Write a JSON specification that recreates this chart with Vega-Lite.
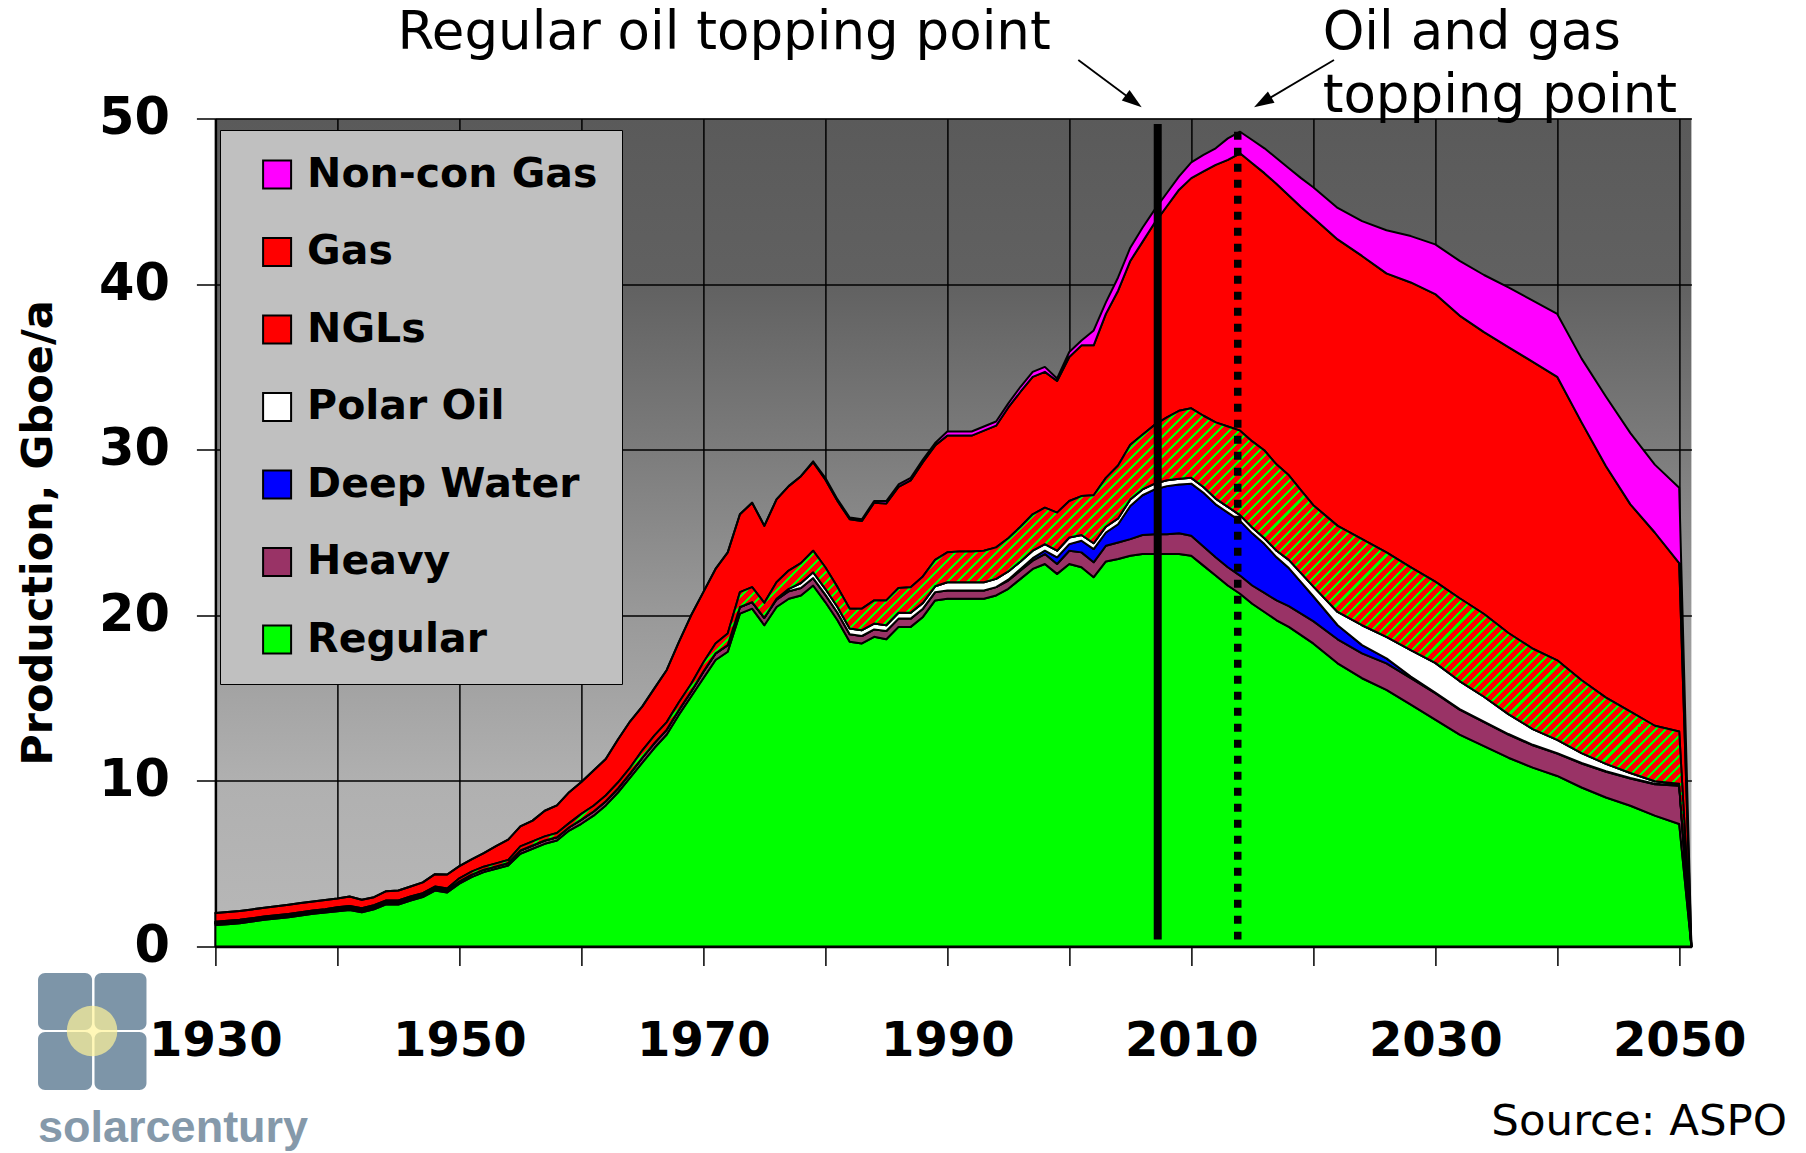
{
"$schema":"https://vega.github.io/schema/vega-lite/v6.json",
"width":1476,"height":828,
"autosize":{"type":"none"},
"padding":{"left":215.4,"top":118.5,"right":114.6,"bottom":206.5},
"background":"white",
"config":{"aria":false,"view":{"stroke":null,"fill":{"gradient":"linear","x1":0,"y1":0,"x2":0,"y2":1,"stops":[{"offset":0,"color":"#5a5a5a"},{"offset":0.2,"color":"#616161"},{"offset":0.4,"color":"#7c7c7c"},{"offset":0.6,"color":"#999999"},{"offset":0.8,"color":"#b0b0b0"},{"offset":1,"color":"#b8b8b8"}]}}},
"datasets":{"prod":[
{"year":1930,"Regular":1.3,"Heavy":0.1,"Deep Water":0,"Polar Oil":0,"NGLs":0.1,"Gas":0.53,"Non-con Gas":0},
{"year":1931,"Regular":1.35,"Heavy":0.1,"Deep Water":0,"Polar Oil":0,"NGLs":0.1,"Gas":0.53,"Non-con Gas":0},
{"year":1932,"Regular":1.41,"Heavy":0.1,"Deep Water":0,"Polar Oil":0,"NGLs":0.1,"Gas":0.53,"Non-con Gas":0},
{"year":1933,"Regular":1.51,"Heavy":0.1,"Deep Water":0,"Polar Oil":0,"NGLs":0.1,"Gas":0.53,"Non-con Gas":0},
{"year":1934,"Regular":1.61,"Heavy":0.1,"Deep Water":0,"Polar Oil":0,"NGLs":0.1,"Gas":0.53,"Non-con Gas":0},
{"year":1935,"Regular":1.69,"Heavy":0.1,"Deep Water":0,"Polar Oil":0,"NGLs":0.1,"Gas":0.54,"Non-con Gas":0},
{"year":1936,"Regular":1.77,"Heavy":0.1,"Deep Water":0,"Polar Oil":0,"NGLs":0.1,"Gas":0.55,"Non-con Gas":0},
{"year":1937,"Regular":1.87,"Heavy":0.1,"Deep Water":0,"Polar Oil":0,"NGLs":0.1,"Gas":0.55,"Non-con Gas":0},
{"year":1938,"Regular":1.97,"Heavy":0.1,"Deep Water":0,"Polar Oil":0,"NGLs":0.1,"Gas":0.55,"Non-con Gas":0},
{"year":1939,"Regular":2.05,"Heavy":0.1,"Deep Water":0,"Polar Oil":0,"NGLs":0.1,"Gas":0.56,"Non-con Gas":0},
{"year":1940,"Regular":2.13,"Heavy":0.12,"Deep Water":0,"Polar Oil":0,"NGLs":0.12,"Gas":0.53,"Non-con Gas":0},
{"year":1941,"Regular":2.21,"Heavy":0.12,"Deep Water":0,"Polar Oil":0,"NGLs":0.12,"Gas":0.57,"Non-con Gas":0},
{"year":1942,"Regular":2.07,"Heavy":0.12,"Deep Water":0,"Polar Oil":0,"NGLs":0.12,"Gas":0.51,"Non-con Gas":0},
{"year":1943,"Regular":2.25,"Heavy":0.12,"Deep Water":0,"Polar Oil":0,"NGLs":0.12,"Gas":0.49,"Non-con Gas":0},
{"year":1944,"Regular":2.54,"Heavy":0.12,"Deep Water":0,"Polar Oil":0,"NGLs":0.12,"Gas":0.56,"Non-con Gas":0},
{"year":1945,"Regular":2.54,"Heavy":0.12,"Deep Water":0,"Polar Oil":0,"NGLs":0.12,"Gas":0.6,"Non-con Gas":0},
{"year":1946,"Regular":2.78,"Heavy":0.12,"Deep Water":0,"Polar Oil":0,"NGLs":0.12,"Gas":0.6,"Non-con Gas":0},
{"year":1947,"Regular":2.98,"Heavy":0.12,"Deep Water":0,"Polar Oil":0,"NGLs":0.12,"Gas":0.65,"Non-con Gas":0},
{"year":1948,"Regular":3.38,"Heavy":0.12,"Deep Water":0,"Polar Oil":0,"NGLs":0.12,"Gas":0.75,"Non-con Gas":0},
{"year":1949,"Regular":3.26,"Heavy":0.12,"Deep Water":0,"Polar Oil":0,"NGLs":0.12,"Gas":0.85,"Non-con Gas":0},
{"year":1950,"Regular":3.79,"Heavy":0.15,"Deep Water":0,"Polar Oil":0,"NGLs":0.18,"Gas":0.73,"Non-con Gas":0},
{"year":1951,"Regular":4.19,"Heavy":0.15,"Deep Water":0,"Polar Oil":0,"NGLs":0.18,"Gas":0.74,"Non-con Gas":0},
{"year":1952,"Regular":4.49,"Heavy":0.15,"Deep Water":0,"Polar Oil":0,"NGLs":0.18,"Gas":0.82,"Non-con Gas":0},
{"year":1953,"Regular":4.69,"Heavy":0.15,"Deep Water":0,"Polar Oil":0,"NGLs":0.18,"Gas":1.04,"Non-con Gas":0},
{"year":1954,"Regular":4.89,"Heavy":0.15,"Deep Water":0,"Polar Oil":0,"NGLs":0.18,"Gas":1.23,"Non-con Gas":0},
{"year":1955,"Regular":5.6,"Heavy":0.2,"Deep Water":0,"Polar Oil":0,"NGLs":0.25,"Gas":1.2,"Non-con Gas":0},
{"year":1956,"Regular":5.9,"Heavy":0.2,"Deep Water":0,"Polar Oil":0,"NGLs":0.25,"Gas":1.25,"Non-con Gas":0},
{"year":1957,"Regular":6.2,"Heavy":0.2,"Deep Water":0,"Polar Oil":0,"NGLs":0.25,"Gas":1.55,"Non-con Gas":0},
{"year":1958,"Regular":6.4,"Heavy":0.2,"Deep Water":0,"Polar Oil":0,"NGLs":0.25,"Gas":1.67,"Non-con Gas":0},
{"year":1959,"Regular":7.0,"Heavy":0.2,"Deep Water":0,"Polar Oil":0,"NGLs":0.25,"Gas":1.87,"Non-con Gas":0},
{"year":1960,"Regular":7.41,"Heavy":0.25,"Deep Water":0,"Polar Oil":0,"NGLs":0.35,"Gas":1.92,"Non-con Gas":0},
{"year":1961,"Regular":7.9,"Heavy":0.25,"Deep Water":0,"Polar Oil":0,"NGLs":0.35,"Gas":2.13,"Non-con Gas":0},
{"year":1962,"Regular":8.52,"Heavy":0.25,"Deep Water":0,"Polar Oil":0,"NGLs":0.35,"Gas":2.2,"Non-con Gas":0},
{"year":1963,"Regular":9.3,"Heavy":0.25,"Deep Water":0,"Polar Oil":0,"NGLs":0.35,"Gas":2.6,"Non-con Gas":0},
{"year":1964,"Regular":10.2,"Heavy":0.25,"Deep Water":0,"Polar Oil":0,"NGLs":0.35,"Gas":2.8,"Non-con Gas":0},
{"year":1965,"Regular":11.1,"Heavy":0.3,"Deep Water":0,"Polar Oil":0,"NGLs":0.45,"Gas":2.65,"Non-con Gas":0},
{"year":1966,"Regular":12.0,"Heavy":0.3,"Deep Water":0,"Polar Oil":0,"NGLs":0.45,"Gas":2.85,"Non-con Gas":0},
{"year":1967,"Regular":12.8,"Heavy":0.3,"Deep Water":0,"Polar Oil":0,"NGLs":0.45,"Gas":3.15,"Non-con Gas":0},
{"year":1968,"Regular":14.0,"Heavy":0.3,"Deep Water":0,"Polar Oil":0,"NGLs":0.45,"Gas":3.65,"Non-con Gas":0},
{"year":1969,"Regular":15.1,"Heavy":0.3,"Deep Water":0,"Polar Oil":0,"NGLs":0.45,"Gas":4.15,"Non-con Gas":0},
{"year":1970,"Regular":16.2,"Heavy":0.4,"Deep Water":0,"Polar Oil":0,"NGLs":0.55,"Gas":4.25,"Non-con Gas":0},
{"year":1971,"Regular":17.3,"Heavy":0.4,"Deep Water":0,"Polar Oil":0,"NGLs":0.6,"Gas":4.5,"Non-con Gas":0},
{"year":1972,"Regular":17.8,"Heavy":0.4,"Deep Water":0,"Polar Oil":0,"NGLs":0.7,"Gas":4.9,"Non-con Gas":0},
{"year":1973,"Regular":20.1,"Heavy":0.4,"Deep Water":0,"Polar Oil":0,"NGLs":0.9,"Gas":4.7,"Non-con Gas":0},
{"year":1974,"Regular":20.4,"Heavy":0.4,"Deep Water":0,"Polar Oil":0,"NGLs":0.9,"Gas":5.1,"Non-con Gas":0},
{"year":1975,"Regular":19.4,"Heavy":0.45,"Deep Water":0,"Polar Oil":0,"NGLs":0.9,"Gas":4.65,"Non-con Gas":0},
{"year":1976,"Regular":20.5,"Heavy":0.45,"Deep Water":0,"Polar Oil":0.05,"NGLs":1.0,"Gas":5.0,"Non-con Gas":0},
{"year":1977,"Regular":21.0,"Heavy":0.45,"Deep Water":0,"Polar Oil":0.15,"NGLs":1.1,"Gas":5.1,"Non-con Gas":0},
{"year":1978,"Regular":21.2,"Heavy":0.45,"Deep Water":0,"Polar Oil":0.3,"NGLs":1.2,"Gas":5.25,"Non-con Gas":0},
{"year":1979,"Regular":21.8,"Heavy":0.45,"Deep Water":0,"Polar Oil":0.35,"NGLs":1.3,"Gas":5.35,"Non-con Gas":0.05},
{"year":1980,"Regular":20.8,"Heavy":0.45,"Deep Water":0,"Polar Oil":0.35,"NGLs":1.3,"Gas":5.3,"Non-con Gas":0.1},
{"year":1981,"Regular":19.7,"Heavy":0.45,"Deep Water":0,"Polar Oil":0.35,"NGLs":1.2,"Gas":5.2,"Non-con Gas":0.1},
{"year":1982,"Regular":18.4,"Heavy":0.45,"Deep Water":0,"Polar Oil":0.35,"NGLs":1.2,"Gas":5.4,"Non-con Gas":0.1},
{"year":1983,"Regular":18.3,"Heavy":0.45,"Deep Water":0,"Polar Oil":0.35,"NGLs":1.3,"Gas":5.3,"Non-con Gas":0.1},
{"year":1984,"Regular":18.7,"Heavy":0.45,"Deep Water":0,"Polar Oil":0.35,"NGLs":1.4,"Gas":5.9,"Non-con Gas":0.1},
{"year":1985,"Regular":18.55,"Heavy":0.5,"Deep Water":0,"Polar Oil":0.35,"NGLs":1.5,"Gas":5.85,"Non-con Gas":0.15},
{"year":1986,"Regular":19.3,"Heavy":0.5,"Deep Water":0,"Polar Oil":0.35,"NGLs":1.5,"Gas":6.1,"Non-con Gas":0.15},
{"year":1987,"Regular":19.3,"Heavy":0.5,"Deep Water":0,"Polar Oil":0.35,"NGLs":1.55,"Gas":6.45,"Non-con Gas":0.15},
{"year":1988,"Regular":19.9,"Heavy":0.5,"Deep Water":0,"Polar Oil":0.35,"NGLs":1.6,"Gas":6.9,"Non-con Gas":0.15},
{"year":1989,"Regular":20.9,"Heavy":0.5,"Deep Water":0,"Polar Oil":0.35,"NGLs":1.6,"Gas":6.9,"Non-con Gas":0.15},
{"year":1990,"Regular":21.0,"Heavy":0.5,"Deep Water":0,"Polar Oil":0.5,"NGLs":1.8,"Gas":7.05,"Non-con Gas":0.25},
{"year":1991,"Regular":21.0,"Heavy":0.5,"Deep Water":0,"Polar Oil":0.5,"NGLs":1.85,"Gas":7.0,"Non-con Gas":0.25},
{"year":1992,"Regular":21.0,"Heavy":0.5,"Deep Water":0,"Polar Oil":0.5,"NGLs":1.85,"Gas":7.0,"Non-con Gas":0.25},
{"year":1993,"Regular":21.0,"Heavy":0.5,"Deep Water":0,"Polar Oil":0.5,"NGLs":1.9,"Gas":7.25,"Non-con Gas":0.25},
{"year":1994,"Regular":21.2,"Heavy":0.5,"Deep Water":0,"Polar Oil":0.5,"NGLs":1.9,"Gas":7.35,"Non-con Gas":0.25},
{"year":1995,"Regular":21.6,"Heavy":0.5,"Deep Water":0.05,"Polar Oil":0.5,"NGLs":2.0,"Gas":7.9,"Non-con Gas":0.25},
{"year":1996,"Regular":22.2,"Heavy":0.5,"Deep Water":0.1,"Polar Oil":0.45,"NGLs":2.1,"Gas":8.15,"Non-con Gas":0.3},
{"year":1997,"Regular":22.8,"Heavy":0.5,"Deep Water":0.15,"Polar Oil":0.45,"NGLs":2.2,"Gas":8.3,"Non-con Gas":0.3},
{"year":1998,"Regular":23.1,"Heavy":0.6,"Deep Water":0.2,"Polar Oil":0.4,"NGLs":2.2,"Gas":8.2,"Non-con Gas":0.3},
{"year":1999,"Regular":22.5,"Heavy":0.6,"Deep Water":0.4,"Polar Oil":0.4,"NGLs":2.3,"Gas":7.95,"Non-con Gas":0.15},
{"year":2000,"Regular":23.1,"Heavy":0.8,"Deep Water":0.4,"Polar Oil":0.4,"NGLs":2.2,"Gas":8.7,"Non-con Gas":0.3},
{"year":2001,"Regular":22.9,"Heavy":0.9,"Deep Water":0.7,"Polar Oil":0.35,"NGLs":2.35,"Gas":9.1,"Non-con Gas":0.3},
{"year":2002,"Regular":22.3,"Heavy":0.9,"Deep Water":0.8,"Polar Oil":0.35,"NGLs":2.9,"Gas":9.05,"Non-con Gas":0.9},
{"year":2003,"Regular":23.25,"Heavy":0.95,"Deep Water":0.8,"Polar Oil":0.35,"NGLs":2.95,"Gas":9.9,"Non-con Gas":0.7},
{"year":2004,"Regular":23.4,"Heavy":1.0,"Deep Water":1.1,"Polar Oil":0.35,"NGLs":3.2,"Gas":10.55,"Non-con Gas":0.8},
{"year":2005,"Regular":23.6,"Heavy":1.0,"Deep Water":2.0,"Polar Oil":0.4,"NGLs":3.3,"Gas":11.1,"Non-con Gas":0.8},
{"year":2006,"Regular":23.7,"Heavy":1.15,"Deep Water":2.4,"Polar Oil":0.35,"NGLs":3.3,"Gas":11.65,"Non-con Gas":0.85},
{"year":2007,"Regular":23.7,"Heavy":1.2,"Deep Water":2.7,"Polar Oil":0.35,"NGLs":3.55,"Gas":12.2,"Non-con Gas":0.8},
{"year":2008,"Regular":23.7,"Heavy":1.2,"Deep Water":2.9,"Polar Oil":0.35,"NGLs":3.8,"Gas":12.75,"Non-con Gas":0.8},
{"year":2009,"Regular":23.7,"Heavy":1.25,"Deep Water":2.95,"Polar Oil":0.35,"NGLs":4.1,"Gas":13.35,"Non-con Gas":0.8},
{"year":2010,"Regular":23.6,"Heavy":1.2,"Deep Water":3.15,"Polar Oil":0.35,"NGLs":4.2,"Gas":13.9,"Non-con Gas":0.95},
{"year":2011,"Regular":23.0,"Heavy":1.15,"Deep Water":3.25,"Polar Oil":0.35,"NGLs":4.3,"Gas":14.75,"Non-con Gas":1.0},
{"year":2012,"Regular":22.4,"Heavy":1.1,"Deep Water":3.2,"Polar Oil":0.35,"NGLs":4.6,"Gas":15.55,"Non-con Gas":1.0},
{"year":2013,"Regular":21.8,"Heavy":1.1,"Deep Water":3.3,"Polar Oil":0.35,"NGLs":4.85,"Gas":16.1,"Non-con Gas":1.3},
{"year":2014,"Regular":21.3,"Heavy":1.1,"Deep Water":3.3,"Polar Oil":0.35,"NGLs":5.1,"Gas":16.75,"Non-con Gas":1.3},
{"year":2015,"Regular":20.7,"Heavy":1.1,"Deep Water":3.15,"Polar Oil":0.35,"NGLs":5.2,"Gas":16.8,"Non-con Gas":1.4},
{"year":2016,"Regular":20.2,"Heavy":1.15,"Deep Water":2.95,"Polar Oil":0.35,"NGLs":5.3,"Gas":16.75,"Non-con Gas":1.5},
{"year":2017,"Regular":19.7,"Heavy":1.2,"Deep Water":2.6,"Polar Oil":0.4,"NGLs":5.2,"Gas":16.95,"Non-con Gas":1.55},
{"year":2018,"Regular":19.3,"Heavy":1.25,"Deep Water":2.3,"Polar Oil":0.5,"NGLs":5.1,"Gas":16.9,"Non-con Gas":1.65},
{"year":2019,"Regular":18.8,"Heavy":1.3,"Deep Water":1.9,"Polar Oil":0.55,"NGLs":5.0,"Gas":17.1,"Non-con Gas":1.75},
{"year":2020,"Regular":18.3,"Heavy":1.35,"Deep Water":1.5,"Polar Oil":0.6,"NGLs":4.9,"Gas":17.35,"Non-con Gas":1.85},
{"year":2022,"Regular":17.1,"Heavy":1.45,"Deep Water":0.85,"Polar Oil":0.8,"NGLs":5.2,"Gas":17.3,"Non-con Gas":1.9},
{"year":2024,"Regular":16.2,"Heavy":1.5,"Deep Water":0.5,"Polar Oil":1.2,"NGLs":5.2,"Gas":17.1,"Non-con Gas":2.1},
{"year":2026,"Regular":15.5,"Heavy":1.6,"Deep Water":0.3,"Polar Oil":1.3,"NGLs":5.1,"Gas":16.85,"Non-con Gas":2.6},
{"year":2028,"Regular":14.6,"Heavy":1.6,"Deep Water":0.1,"Polar Oil":1.6,"NGLs":5.0,"Gas":17.2,"Non-con Gas":2.8},
{"year":2030,"Regular":13.7,"Heavy":1.6,"Deep Water":0.03,"Polar Oil":1.8,"NGLs":4.9,"Gas":17.37,"Non-con Gas":3.0},
{"year":2032,"Regular":12.8,"Heavy":1.5,"Deep Water":0.03,"Polar Oil":1.7,"NGLs":5.0,"Gas":17.07,"Non-con Gas":3.3},
{"year":2034,"Regular":12.1,"Heavy":1.45,"Deep Water":0.03,"Polar Oil":1.5,"NGLs":5.0,"Gas":17.02,"Non-con Gas":3.45},
{"year":2036,"Regular":11.4,"Heavy":1.4,"Deep Water":0.03,"Polar Oil":1.2,"NGLs":4.9,"Gas":17.27,"Non-con Gas":3.6},
{"year":2038,"Regular":10.8,"Heavy":1.35,"Deep Water":0.03,"Polar Oil":0.95,"NGLs":4.85,"Gas":17.32,"Non-con Gas":3.7},
{"year":2040,"Regular":10.3,"Heavy":1.35,"Deep Water":0.03,"Polar Oil":0.8,"NGLs":4.8,"Gas":17.12,"Non-con Gas":3.8},
{"year":2042,"Regular":9.6,"Heavy":1.45,"Deep Water":0.03,"Polar Oil":0.6,"NGLs":4.4,"Gas":15.57,"Non-con Gas":3.85},
{"year":2044,"Regular":9.0,"Heavy":1.55,"Deep Water":0.03,"Polar Oil":0.45,"NGLs":4.0,"Gas":13.97,"Non-con Gas":4.2},
{"year":2046,"Regular":8.5,"Heavy":1.65,"Deep Water":0.03,"Polar Oil":0.3,"NGLs":3.7,"Gas":12.52,"Non-con Gas":4.3},
{"year":2048,"Regular":7.9,"Heavy":1.9,"Deep Water":0.03,"Polar Oil":0.15,"NGLs":3.35,"Gas":11.67,"Non-con Gas":4.1},
{"year":2050,"Regular":7.4,"Heavy":2.3,"Deep Water":0.03,"Polar Oil":0.1,"NGLs":3.15,"Gas":10.17,"Non-con Gas":4.55},
{"year":2051,"Regular":0,"Heavy":0,"Deep Water":0,"Polar Oil":0,"NGLs":0,"Gas":0,"Non-con Gas":0}
]},
"layer":[
{"data":{"name":"prod"},
 "transform":[{"fold":["Regular","Heavy","Deep Water","Polar Oil","NGLs","Gas","Non-con Gas"],"as":["series","value"]},{"stack":"value","groupby":["year"],"as":["v0","v1"]}],
 "mark":{"type":"area","stroke":"black","strokeWidth":2,"strokeJoin":"round","opacity":1},
 "encoding":{
  "x":{"field":"year","type":"quantitative","scale":{"domain":[1930,2051],"nice":false,"zero":false},
   "axis":{"values":[1930,1940,1950,1960,1970,1980,1990,2000,2010,2020,2030,2040,2050],"format":"d","labelExpr":"datum.value % 20 === 10 ? datum.label : ''","title":null,"grid":true,"gridColor":"black","gridWidth":1.5,"gridOpacity":1,"domainColor":"black","domainWidth":2.5,"ticks":true,"tickColor":"black","tickWidth":1.5,"tickSize":19,"labelFont":"DejaVu Sans","labelFontSize":48,"labelFontWeight":"bold","labelColor":"black","labelPadding":52,"labelFlush":false,"labelOverlap":false}},
  "y":{"field":"v1","type":"quantitative","scale":{"domain":[0,50],"nice":false},
   "axis":{"values":[0,10,20,30,40,50],"title":"Production, Gboe/a","titleFont":"DejaVu Sans","titleFontSize":43,"titleFontWeight":"bold","titleColor":"black","titleX":-164,"titleY":414,"titleAngle":270,"titleAlign":"center","titleBaseline":"alphabetic","grid":true,"gridColor":"black","gridWidth":1.5,"gridOpacity":1,"domainColor":"black","domainWidth":2.5,"ticks":true,"tickColor":"black","tickWidth":1.5,"tickSize":19,"labelFont":"DejaVu Sans","labelFontSize":51,"labelFontWeight":"bold","labelColor":"black","labelPadding":27,"labelOverlap":false}},
  "y2":{"field":"v0"},
  "color":{"field":"series","type":"nominal",
   "scale":{"domain":["Non-con Gas","Gas","NGLs","Polar Oil","Deep Water","Heavy","Regular"],"range":["#ff00ff","#ff0000","#ff0000","#ffffff","#0000ff","#993366","#00ff00"]},
   "legend":{"title":null,"orient":"none","legendX":4.6,"legendY":11.5,"direction":"vertical","fillColor":"#c0c0c0","strokeColor":"black","padding":24,"symbolType":"square","symbolSize":784,"symbolStrokeColor":"black","symbolStrokeWidth":2,"symbolOpacity":1,"symbolOffset":12.6,"labelOffset":9.5,"labelFont":"DejaVu Sans","labelFontSize":41,"labelFontWeight":"bold","labelColor":"black","labelLimit":600,"rowPadding":35.5}}
 }},
{"data":{"name":"prod"},
 "transform":[{"fold":["Regular","Heavy","Deep Water","Polar Oil","NGLs","Gas","Non-con Gas"],"as":["series","value"]},{"stack":"value","groupby":["year"],"as":["v0","v1"]},{"filter":"datum.series === 'NGLs'"}],
 "mark":{"type":"area","stroke":"black","strokeWidth":2,"strokeJoin":"round","opacity":1,"fill":{"gradient":"linear","x1":0,"y1":0,"x2":1.2045,"y2":0.4392,"stops":[
{"offset":0,"color":"red"},{"offset":0.0035,"color":"red"},{"offset":0.0035,"color":"lime"},{"offset":0.005,"color":"lime"},{"offset":0.005,"color":"red"},{"offset":0.0085,"color":"red"},{"offset":0.0085,"color":"lime"},{"offset":0.01,"color":"lime"},
{"offset":0.01,"color":"red"},{"offset":0.0135,"color":"red"},{"offset":0.0135,"color":"lime"},{"offset":0.015,"color":"lime"},{"offset":0.015,"color":"red"},{"offset":0.0185,"color":"red"},{"offset":0.0185,"color":"lime"},{"offset":0.02,"color":"lime"},
{"offset":0.02,"color":"red"},{"offset":0.0235,"color":"red"},{"offset":0.0235,"color":"lime"},{"offset":0.025,"color":"lime"},{"offset":0.025,"color":"red"},{"offset":0.0285,"color":"red"},{"offset":0.0285,"color":"lime"},{"offset":0.03,"color":"lime"},
{"offset":0.03,"color":"red"},{"offset":0.0335,"color":"red"},{"offset":0.0335,"color":"lime"},{"offset":0.035,"color":"lime"},{"offset":0.035,"color":"red"},{"offset":0.0385,"color":"red"},{"offset":0.0385,"color":"lime"},{"offset":0.04,"color":"lime"},
{"offset":0.04,"color":"red"},{"offset":0.0435,"color":"red"},{"offset":0.0435,"color":"lime"},{"offset":0.045,"color":"lime"},{"offset":0.045,"color":"red"},{"offset":0.0485,"color":"red"},{"offset":0.0485,"color":"lime"},{"offset":0.05,"color":"lime"},
{"offset":0.05,"color":"red"},{"offset":0.0535,"color":"red"},{"offset":0.0535,"color":"lime"},{"offset":0.055,"color":"lime"},{"offset":0.055,"color":"red"},{"offset":0.0585,"color":"red"},{"offset":0.0585,"color":"lime"},{"offset":0.06,"color":"lime"},
{"offset":0.06,"color":"red"},{"offset":0.0635,"color":"red"},{"offset":0.0635,"color":"lime"},{"offset":0.065,"color":"lime"},{"offset":0.065,"color":"red"},{"offset":0.0685,"color":"red"},{"offset":0.0685,"color":"lime"},{"offset":0.07,"color":"lime"},
{"offset":0.07,"color":"red"},{"offset":0.0735,"color":"red"},{"offset":0.0735,"color":"lime"},{"offset":0.075,"color":"lime"},{"offset":0.075,"color":"red"},{"offset":0.0785,"color":"red"},{"offset":0.0785,"color":"lime"},{"offset":0.08,"color":"lime"},
{"offset":0.08,"color":"red"},{"offset":0.0835,"color":"red"},{"offset":0.0835,"color":"lime"},{"offset":0.085,"color":"lime"},{"offset":0.085,"color":"red"},{"offset":0.0885,"color":"red"},{"offset":0.0885,"color":"lime"},{"offset":0.09,"color":"lime"},
{"offset":0.09,"color":"red"},{"offset":0.0935,"color":"red"},{"offset":0.0935,"color":"lime"},{"offset":0.095,"color":"lime"},{"offset":0.095,"color":"red"},{"offset":0.0985,"color":"red"},{"offset":0.0985,"color":"lime"},{"offset":0.1,"color":"lime"},
{"offset":0.1,"color":"red"},{"offset":0.1035,"color":"red"},{"offset":0.1035,"color":"lime"},{"offset":0.105,"color":"lime"},{"offset":0.105,"color":"red"},{"offset":0.1085,"color":"red"},{"offset":0.1085,"color":"lime"},{"offset":0.11,"color":"lime"},
{"offset":0.11,"color":"red"},{"offset":0.1135,"color":"red"},{"offset":0.1135,"color":"lime"},{"offset":0.115,"color":"lime"},{"offset":0.115,"color":"red"},{"offset":0.1185,"color":"red"},{"offset":0.1185,"color":"lime"},{"offset":0.12,"color":"lime"},
{"offset":0.12,"color":"red"},{"offset":0.1235,"color":"red"},{"offset":0.1235,"color":"lime"},{"offset":0.125,"color":"lime"},{"offset":0.125,"color":"red"},{"offset":0.1285,"color":"red"},{"offset":0.1285,"color":"lime"},{"offset":0.13,"color":"lime"},
{"offset":0.13,"color":"red"},{"offset":0.1335,"color":"red"},{"offset":0.1335,"color":"lime"},{"offset":0.135,"color":"lime"},{"offset":0.135,"color":"red"},{"offset":0.1385,"color":"red"},{"offset":0.1385,"color":"lime"},{"offset":0.14,"color":"lime"},
{"offset":0.14,"color":"red"},{"offset":0.1435,"color":"red"},{"offset":0.1435,"color":"lime"},{"offset":0.145,"color":"lime"},{"offset":0.145,"color":"red"},{"offset":0.1485,"color":"red"},{"offset":0.1485,"color":"lime"},{"offset":0.15,"color":"lime"},
{"offset":0.15,"color":"red"},{"offset":0.1535,"color":"red"},{"offset":0.1535,"color":"lime"},{"offset":0.155,"color":"lime"},{"offset":0.155,"color":"red"},{"offset":0.1585,"color":"red"},{"offset":0.1585,"color":"lime"},{"offset":0.16,"color":"lime"},
{"offset":0.16,"color":"red"},{"offset":0.1635,"color":"red"},{"offset":0.1635,"color":"lime"},{"offset":0.165,"color":"lime"},{"offset":0.165,"color":"red"},{"offset":0.1685,"color":"red"},{"offset":0.1685,"color":"lime"},{"offset":0.17,"color":"lime"},
{"offset":0.17,"color":"red"},{"offset":0.1735,"color":"red"},{"offset":0.1735,"color":"lime"},{"offset":0.175,"color":"lime"},{"offset":0.175,"color":"red"},{"offset":0.1785,"color":"red"},{"offset":0.1785,"color":"lime"},{"offset":0.18,"color":"lime"},
{"offset":0.18,"color":"red"},{"offset":0.1835,"color":"red"},{"offset":0.1835,"color":"lime"},{"offset":0.185,"color":"lime"},{"offset":0.185,"color":"red"},{"offset":0.1885,"color":"red"},{"offset":0.1885,"color":"lime"},{"offset":0.19,"color":"lime"},
{"offset":0.19,"color":"red"},{"offset":0.1935,"color":"red"},{"offset":0.1935,"color":"lime"},{"offset":0.195,"color":"lime"},{"offset":0.195,"color":"red"},{"offset":0.1985,"color":"red"},{"offset":0.1985,"color":"lime"},{"offset":0.2,"color":"lime"},
{"offset":0.2,"color":"red"},{"offset":0.2035,"color":"red"},{"offset":0.2035,"color":"lime"},{"offset":0.205,"color":"lime"},{"offset":0.205,"color":"red"},{"offset":0.2085,"color":"red"},{"offset":0.2085,"color":"lime"},{"offset":0.21,"color":"lime"},
{"offset":0.21,"color":"red"},{"offset":0.2135,"color":"red"},{"offset":0.2135,"color":"lime"},{"offset":0.215,"color":"lime"},{"offset":0.215,"color":"red"},{"offset":0.2185,"color":"red"},{"offset":0.2185,"color":"lime"},{"offset":0.22,"color":"lime"},
{"offset":0.22,"color":"red"},{"offset":0.2235,"color":"red"},{"offset":0.2235,"color":"lime"},{"offset":0.225,"color":"lime"},{"offset":0.225,"color":"red"},{"offset":0.2285,"color":"red"},{"offset":0.2285,"color":"lime"},{"offset":0.23,"color":"lime"},
{"offset":0.23,"color":"red"},{"offset":0.2335,"color":"red"},{"offset":0.2335,"color":"lime"},{"offset":0.235,"color":"lime"},{"offset":0.235,"color":"red"},{"offset":0.2385,"color":"red"},{"offset":0.2385,"color":"lime"},{"offset":0.24,"color":"lime"},
{"offset":0.24,"color":"red"},{"offset":0.2435,"color":"red"},{"offset":0.2435,"color":"lime"},{"offset":0.245,"color":"lime"},{"offset":0.245,"color":"red"},{"offset":0.2485,"color":"red"},{"offset":0.2485,"color":"lime"},{"offset":0.25,"color":"lime"},
{"offset":0.25,"color":"red"},{"offset":0.2535,"color":"red"},{"offset":0.2535,"color":"lime"},{"offset":0.255,"color":"lime"},{"offset":0.255,"color":"red"},{"offset":0.2585,"color":"red"},{"offset":0.2585,"color":"lime"},{"offset":0.26,"color":"lime"},
{"offset":0.26,"color":"red"},{"offset":0.2635,"color":"red"},{"offset":0.2635,"color":"lime"},{"offset":0.265,"color":"lime"},{"offset":0.265,"color":"red"},{"offset":0.2685,"color":"red"},{"offset":0.2685,"color":"lime"},{"offset":0.27,"color":"lime"},
{"offset":0.27,"color":"red"},{"offset":0.2735,"color":"red"},{"offset":0.2735,"color":"lime"},{"offset":0.275,"color":"lime"},{"offset":0.275,"color":"red"},{"offset":0.2785,"color":"red"},{"offset":0.2785,"color":"lime"},{"offset":0.28,"color":"lime"},
{"offset":0.28,"color":"red"},{"offset":0.2835,"color":"red"},{"offset":0.2835,"color":"lime"},{"offset":0.285,"color":"lime"},{"offset":0.285,"color":"red"},{"offset":0.2885,"color":"red"},{"offset":0.2885,"color":"lime"},{"offset":0.29,"color":"lime"},
{"offset":0.29,"color":"red"},{"offset":0.2935,"color":"red"},{"offset":0.2935,"color":"lime"},{"offset":0.295,"color":"lime"},{"offset":0.295,"color":"red"},{"offset":0.2985,"color":"red"},{"offset":0.2985,"color":"lime"},{"offset":0.3,"color":"lime"},
{"offset":0.3,"color":"red"},{"offset":0.3035,"color":"red"},{"offset":0.3035,"color":"lime"},{"offset":0.305,"color":"lime"},{"offset":0.305,"color":"red"},{"offset":0.3085,"color":"red"},{"offset":0.3085,"color":"lime"},{"offset":0.31,"color":"lime"},
{"offset":0.31,"color":"red"},{"offset":0.3135,"color":"red"},{"offset":0.3135,"color":"lime"},{"offset":0.315,"color":"lime"},{"offset":0.315,"color":"red"},{"offset":0.3185,"color":"red"},{"offset":0.3185,"color":"lime"},{"offset":0.32,"color":"lime"},
{"offset":0.32,"color":"red"},{"offset":0.3235,"color":"red"},{"offset":0.3235,"color":"lime"},{"offset":0.325,"color":"lime"},{"offset":0.325,"color":"red"},{"offset":0.3285,"color":"red"},{"offset":0.3285,"color":"lime"},{"offset":0.33,"color":"lime"},
{"offset":0.33,"color":"red"},{"offset":0.3335,"color":"red"},{"offset":0.3335,"color":"lime"},{"offset":0.335,"color":"lime"},{"offset":0.335,"color":"red"},{"offset":0.3385,"color":"red"},{"offset":0.3385,"color":"lime"},{"offset":0.34,"color":"lime"},
{"offset":0.34,"color":"red"},{"offset":0.3435,"color":"red"},{"offset":0.3435,"color":"lime"},{"offset":0.345,"color":"lime"},{"offset":0.345,"color":"red"},{"offset":0.3485,"color":"red"},{"offset":0.3485,"color":"lime"},{"offset":0.35,"color":"lime"},
{"offset":0.35,"color":"red"},{"offset":0.3535,"color":"red"},{"offset":0.3535,"color":"lime"},{"offset":0.355,"color":"lime"},{"offset":0.355,"color":"red"},{"offset":0.3585,"color":"red"},{"offset":0.3585,"color":"lime"},{"offset":0.36,"color":"lime"},
{"offset":0.36,"color":"red"},{"offset":0.3635,"color":"red"},{"offset":0.3635,"color":"lime"},{"offset":0.365,"color":"lime"},{"offset":0.365,"color":"red"},{"offset":0.3685,"color":"red"},{"offset":0.3685,"color":"lime"},{"offset":0.37,"color":"lime"},
{"offset":0.37,"color":"red"},{"offset":0.3735,"color":"red"},{"offset":0.3735,"color":"lime"},{"offset":0.375,"color":"lime"},{"offset":0.375,"color":"red"},{"offset":0.3785,"color":"red"},{"offset":0.3785,"color":"lime"},{"offset":0.38,"color":"lime"},
{"offset":0.38,"color":"red"},{"offset":0.3835,"color":"red"},{"offset":0.3835,"color":"lime"},{"offset":0.385,"color":"lime"},{"offset":0.385,"color":"red"},{"offset":0.3885,"color":"red"},{"offset":0.3885,"color":"lime"},{"offset":0.39,"color":"lime"},
{"offset":0.39,"color":"red"},{"offset":0.3935,"color":"red"},{"offset":0.3935,"color":"lime"},{"offset":0.395,"color":"lime"},{"offset":0.395,"color":"red"},{"offset":0.3985,"color":"red"},{"offset":0.3985,"color":"lime"},{"offset":0.4,"color":"lime"},
{"offset":0.4,"color":"red"},{"offset":0.4035,"color":"red"},{"offset":0.4035,"color":"lime"},{"offset":0.405,"color":"lime"},{"offset":0.405,"color":"red"},{"offset":0.4085,"color":"red"},{"offset":0.4085,"color":"lime"},{"offset":0.41,"color":"lime"},
{"offset":0.41,"color":"red"},{"offset":0.4135,"color":"red"},{"offset":0.4135,"color":"lime"},{"offset":0.415,"color":"lime"},{"offset":0.415,"color":"red"},{"offset":0.4185,"color":"red"},{"offset":0.4185,"color":"lime"},{"offset":0.42,"color":"lime"},
{"offset":0.42,"color":"red"},{"offset":0.4235,"color":"red"},{"offset":0.4235,"color":"lime"},{"offset":0.425,"color":"lime"},{"offset":0.425,"color":"red"},{"offset":0.4285,"color":"red"},{"offset":0.4285,"color":"lime"},{"offset":0.43,"color":"lime"},
{"offset":0.43,"color":"red"},{"offset":0.4335,"color":"red"},{"offset":0.4335,"color":"lime"},{"offset":0.435,"color":"lime"},{"offset":0.435,"color":"red"},{"offset":0.4385,"color":"red"},{"offset":0.4385,"color":"lime"},{"offset":0.44,"color":"lime"},
{"offset":0.44,"color":"red"},{"offset":0.4435,"color":"red"},{"offset":0.4435,"color":"lime"},{"offset":0.445,"color":"lime"},{"offset":0.445,"color":"red"},{"offset":0.4485,"color":"red"},{"offset":0.4485,"color":"lime"},{"offset":0.45,"color":"lime"},
{"offset":0.45,"color":"red"},{"offset":0.4535,"color":"red"},{"offset":0.4535,"color":"lime"},{"offset":0.455,"color":"lime"},{"offset":0.455,"color":"red"},{"offset":0.4585,"color":"red"},{"offset":0.4585,"color":"lime"},{"offset":0.46,"color":"lime"},
{"offset":0.46,"color":"red"},{"offset":0.4635,"color":"red"},{"offset":0.4635,"color":"lime"},{"offset":0.465,"color":"lime"},{"offset":0.465,"color":"red"},{"offset":0.4685,"color":"red"},{"offset":0.4685,"color":"lime"},{"offset":0.47,"color":"lime"},
{"offset":0.47,"color":"red"},{"offset":0.4735,"color":"red"},{"offset":0.4735,"color":"lime"},{"offset":0.475,"color":"lime"},{"offset":0.475,"color":"red"},{"offset":0.4785,"color":"red"},{"offset":0.4785,"color":"lime"},{"offset":0.48,"color":"lime"},
{"offset":0.48,"color":"red"},{"offset":0.4835,"color":"red"},{"offset":0.4835,"color":"lime"},{"offset":0.485,"color":"lime"},{"offset":0.485,"color":"red"},{"offset":0.4885,"color":"red"},{"offset":0.4885,"color":"lime"},{"offset":0.49,"color":"lime"},
{"offset":0.49,"color":"red"},{"offset":0.4935,"color":"red"},{"offset":0.4935,"color":"lime"},{"offset":0.495,"color":"lime"},{"offset":0.495,"color":"red"},{"offset":0.4985,"color":"red"},{"offset":0.4985,"color":"lime"},{"offset":0.5,"color":"lime"},
{"offset":0.5,"color":"red"},{"offset":0.5035,"color":"red"},{"offset":0.5035,"color":"lime"},{"offset":0.505,"color":"lime"},{"offset":0.505,"color":"red"},{"offset":0.5085,"color":"red"},{"offset":0.5085,"color":"lime"},{"offset":0.51,"color":"lime"},
{"offset":0.51,"color":"red"},{"offset":0.5135,"color":"red"},{"offset":0.5135,"color":"lime"},{"offset":0.515,"color":"lime"},{"offset":0.515,"color":"red"},{"offset":0.5185,"color":"red"},{"offset":0.5185,"color":"lime"},{"offset":0.52,"color":"lime"},
{"offset":0.52,"color":"red"},{"offset":0.5235,"color":"red"},{"offset":0.5235,"color":"lime"},{"offset":0.525,"color":"lime"},{"offset":0.525,"color":"red"},{"offset":0.5285,"color":"red"},{"offset":0.5285,"color":"lime"},{"offset":0.53,"color":"lime"},
{"offset":0.53,"color":"red"},{"offset":0.5335,"color":"red"},{"offset":0.5335,"color":"lime"},{"offset":0.535,"color":"lime"},{"offset":0.535,"color":"red"},{"offset":0.5385,"color":"red"},{"offset":0.5385,"color":"lime"},{"offset":0.54,"color":"lime"},
{"offset":0.54,"color":"red"},{"offset":0.5435,"color":"red"},{"offset":0.5435,"color":"lime"},{"offset":0.545,"color":"lime"},{"offset":0.545,"color":"red"},{"offset":0.5485,"color":"red"},{"offset":0.5485,"color":"lime"},{"offset":0.55,"color":"lime"},
{"offset":0.55,"color":"red"},{"offset":0.5535,"color":"red"},{"offset":0.5535,"color":"lime"},{"offset":0.555,"color":"lime"},{"offset":0.555,"color":"red"},{"offset":0.5585,"color":"red"},{"offset":0.5585,"color":"lime"},{"offset":0.56,"color":"lime"},
{"offset":0.56,"color":"red"},{"offset":0.5635,"color":"red"},{"offset":0.5635,"color":"lime"},{"offset":0.565,"color":"lime"},{"offset":0.565,"color":"red"},{"offset":0.5685,"color":"red"},{"offset":0.5685,"color":"lime"},{"offset":0.57,"color":"lime"},
{"offset":0.57,"color":"red"},{"offset":0.5735,"color":"red"},{"offset":0.5735,"color":"lime"},{"offset":0.575,"color":"lime"},{"offset":0.575,"color":"red"},{"offset":0.5785,"color":"red"},{"offset":0.5785,"color":"lime"},{"offset":0.58,"color":"lime"},
{"offset":0.58,"color":"red"},{"offset":0.5835,"color":"red"},{"offset":0.5835,"color":"lime"},{"offset":0.585,"color":"lime"},{"offset":0.585,"color":"red"},{"offset":0.5885,"color":"red"},{"offset":0.5885,"color":"lime"},{"offset":0.59,"color":"lime"},
{"offset":0.59,"color":"red"},{"offset":0.5935,"color":"red"},{"offset":0.5935,"color":"lime"},{"offset":0.595,"color":"lime"},{"offset":0.595,"color":"red"},{"offset":0.5985,"color":"red"},{"offset":0.5985,"color":"lime"},{"offset":0.6,"color":"lime"},
{"offset":0.6,"color":"red"},{"offset":0.6035,"color":"red"},{"offset":0.6035,"color":"lime"},{"offset":0.605,"color":"lime"},{"offset":0.605,"color":"red"},{"offset":0.6085,"color":"red"},{"offset":0.6085,"color":"lime"},{"offset":0.61,"color":"lime"},
{"offset":0.61,"color":"red"},{"offset":0.6135,"color":"red"},{"offset":0.6135,"color":"lime"},{"offset":0.615,"color":"lime"},{"offset":0.615,"color":"red"},{"offset":0.6185,"color":"red"},{"offset":0.6185,"color":"lime"},{"offset":0.62,"color":"lime"},
{"offset":0.62,"color":"red"},{"offset":0.6235,"color":"red"},{"offset":0.6235,"color":"lime"},{"offset":0.625,"color":"lime"},{"offset":0.625,"color":"red"},{"offset":0.6285,"color":"red"},{"offset":0.6285,"color":"lime"},{"offset":0.63,"color":"lime"},
{"offset":0.63,"color":"red"},{"offset":0.6335,"color":"red"},{"offset":0.6335,"color":"lime"},{"offset":0.635,"color":"lime"},{"offset":0.635,"color":"red"},{"offset":0.6385,"color":"red"},{"offset":0.6385,"color":"lime"},{"offset":0.64,"color":"lime"},
{"offset":0.64,"color":"red"},{"offset":0.6435,"color":"red"},{"offset":0.6435,"color":"lime"},{"offset":0.645,"color":"lime"},{"offset":0.645,"color":"red"},{"offset":0.6485,"color":"red"},{"offset":0.6485,"color":"lime"},{"offset":0.65,"color":"lime"},
{"offset":0.65,"color":"red"},{"offset":0.6535,"color":"red"},{"offset":0.6535,"color":"lime"},{"offset":0.655,"color":"lime"},{"offset":0.655,"color":"red"},{"offset":0.6585,"color":"red"},{"offset":0.6585,"color":"lime"},{"offset":0.66,"color":"lime"},
{"offset":0.66,"color":"red"},{"offset":0.6635,"color":"red"},{"offset":0.6635,"color":"lime"},{"offset":0.665,"color":"lime"},{"offset":0.665,"color":"red"},{"offset":0.6685,"color":"red"},{"offset":0.6685,"color":"lime"},{"offset":0.67,"color":"lime"},
{"offset":0.67,"color":"red"},{"offset":0.6735,"color":"red"},{"offset":0.6735,"color":"lime"},{"offset":0.675,"color":"lime"},{"offset":0.675,"color":"red"},{"offset":0.6785,"color":"red"},{"offset":0.6785,"color":"lime"},{"offset":0.68,"color":"lime"},
{"offset":0.68,"color":"red"},{"offset":0.6835,"color":"red"},{"offset":0.6835,"color":"lime"},{"offset":0.685,"color":"lime"},{"offset":0.685,"color":"red"},{"offset":0.6885,"color":"red"},{"offset":0.6885,"color":"lime"},{"offset":0.69,"color":"lime"},
{"offset":0.69,"color":"red"},{"offset":0.6935,"color":"red"},{"offset":0.6935,"color":"lime"},{"offset":0.695,"color":"lime"},{"offset":0.695,"color":"red"},{"offset":0.6985,"color":"red"},{"offset":0.6985,"color":"lime"},{"offset":0.7,"color":"lime"},
{"offset":0.7,"color":"red"},{"offset":0.7035,"color":"red"},{"offset":0.7035,"color":"lime"},{"offset":0.705,"color":"lime"},{"offset":0.705,"color":"red"},{"offset":0.7085,"color":"red"},{"offset":0.7085,"color":"lime"},{"offset":0.71,"color":"lime"},
{"offset":0.71,"color":"red"},{"offset":0.7135,"color":"red"},{"offset":0.7135,"color":"lime"},{"offset":0.715,"color":"lime"},{"offset":0.715,"color":"red"},{"offset":0.7185,"color":"red"},{"offset":0.7185,"color":"lime"},{"offset":0.72,"color":"lime"},
{"offset":0.72,"color":"red"},{"offset":0.7235,"color":"red"},{"offset":0.7235,"color":"lime"},{"offset":0.725,"color":"lime"},{"offset":0.725,"color":"red"},{"offset":0.7285,"color":"red"},{"offset":0.7285,"color":"lime"},{"offset":0.73,"color":"lime"},
{"offset":0.73,"color":"red"},{"offset":0.7335,"color":"red"},{"offset":0.7335,"color":"lime"},{"offset":0.735,"color":"lime"},{"offset":0.735,"color":"red"},{"offset":0.7385,"color":"red"},{"offset":0.7385,"color":"lime"},{"offset":0.74,"color":"lime"},
{"offset":0.74,"color":"red"},{"offset":0.7435,"color":"red"},{"offset":0.7435,"color":"lime"},{"offset":0.745,"color":"lime"},{"offset":0.745,"color":"red"},{"offset":0.7485,"color":"red"},{"offset":0.7485,"color":"lime"},{"offset":0.75,"color":"lime"},
{"offset":0.75,"color":"red"},{"offset":0.7535,"color":"red"},{"offset":0.7535,"color":"lime"},{"offset":0.755,"color":"lime"},{"offset":0.755,"color":"red"},{"offset":0.7585,"color":"red"},{"offset":0.7585,"color":"lime"},{"offset":0.76,"color":"lime"},
{"offset":0.76,"color":"red"},{"offset":0.7635,"color":"red"},{"offset":0.7635,"color":"lime"},{"offset":0.765,"color":"lime"},{"offset":0.765,"color":"red"},{"offset":0.7685,"color":"red"},{"offset":0.7685,"color":"lime"},{"offset":0.77,"color":"lime"},
{"offset":0.77,"color":"red"},{"offset":0.7735,"color":"red"},{"offset":0.7735,"color":"lime"},{"offset":0.775,"color":"lime"},{"offset":0.775,"color":"red"},{"offset":0.7785,"color":"red"},{"offset":0.7785,"color":"lime"},{"offset":0.78,"color":"lime"},
{"offset":0.78,"color":"red"},{"offset":0.7835,"color":"red"},{"offset":0.7835,"color":"lime"},{"offset":0.785,"color":"lime"},{"offset":0.785,"color":"red"},{"offset":0.7885,"color":"red"},{"offset":0.7885,"color":"lime"},{"offset":0.79,"color":"lime"},
{"offset":0.79,"color":"red"},{"offset":0.7935,"color":"red"},{"offset":0.7935,"color":"lime"},{"offset":0.795,"color":"lime"},{"offset":0.795,"color":"red"},{"offset":0.7985,"color":"red"},{"offset":0.7985,"color":"lime"},{"offset":0.8,"color":"lime"},
{"offset":0.8,"color":"red"},{"offset":0.8035,"color":"red"},{"offset":0.8035,"color":"lime"},{"offset":0.805,"color":"lime"},{"offset":0.805,"color":"red"},{"offset":0.8085,"color":"red"},{"offset":0.8085,"color":"lime"},{"offset":0.81,"color":"lime"},
{"offset":0.81,"color":"red"},{"offset":0.8135,"color":"red"},{"offset":0.8135,"color":"lime"},{"offset":0.815,"color":"lime"},{"offset":0.815,"color":"red"},{"offset":0.8185,"color":"red"},{"offset":0.8185,"color":"lime"},{"offset":0.82,"color":"lime"},
{"offset":0.82,"color":"red"},{"offset":0.8235,"color":"red"},{"offset":0.8235,"color":"lime"},{"offset":0.825,"color":"lime"},{"offset":0.825,"color":"red"},{"offset":0.8285,"color":"red"},{"offset":0.8285,"color":"lime"},{"offset":0.83,"color":"lime"},
{"offset":0.83,"color":"red"},{"offset":0.8335,"color":"red"},{"offset":0.8335,"color":"lime"},{"offset":0.835,"color":"lime"},{"offset":0.835,"color":"red"},{"offset":0.8385,"color":"red"},{"offset":0.8385,"color":"lime"},{"offset":0.84,"color":"lime"},
{"offset":0.84,"color":"red"},{"offset":0.8435,"color":"red"},{"offset":0.8435,"color":"lime"},{"offset":0.845,"color":"lime"},{"offset":0.845,"color":"red"},{"offset":0.8485,"color":"red"},{"offset":0.8485,"color":"lime"},{"offset":0.85,"color":"lime"},
{"offset":0.85,"color":"red"},{"offset":0.8535,"color":"red"},{"offset":0.8535,"color":"lime"},{"offset":0.855,"color":"lime"},{"offset":0.855,"color":"red"},{"offset":0.8585,"color":"red"},{"offset":0.8585,"color":"lime"},{"offset":0.86,"color":"lime"},
{"offset":0.86,"color":"red"},{"offset":0.8635,"color":"red"},{"offset":0.8635,"color":"lime"},{"offset":0.865,"color":"lime"},{"offset":0.865,"color":"red"},{"offset":0.8685,"color":"red"},{"offset":0.8685,"color":"lime"},{"offset":0.87,"color":"lime"},
{"offset":0.87,"color":"red"},{"offset":0.8735,"color":"red"},{"offset":0.8735,"color":"lime"},{"offset":0.875,"color":"lime"},{"offset":0.875,"color":"red"},{"offset":0.8785,"color":"red"},{"offset":0.8785,"color":"lime"},{"offset":0.88,"color":"lime"},
{"offset":0.88,"color":"red"},{"offset":0.8835,"color":"red"},{"offset":0.8835,"color":"lime"},{"offset":0.885,"color":"lime"},{"offset":0.885,"color":"red"},{"offset":0.8885,"color":"red"},{"offset":0.8885,"color":"lime"},{"offset":0.89,"color":"lime"},
{"offset":0.89,"color":"red"},{"offset":0.8935,"color":"red"},{"offset":0.8935,"color":"lime"},{"offset":0.895,"color":"lime"},{"offset":0.895,"color":"red"},{"offset":0.8985,"color":"red"},{"offset":0.8985,"color":"lime"},{"offset":0.9,"color":"lime"},
{"offset":0.9,"color":"red"},{"offset":0.9035,"color":"red"},{"offset":0.9035,"color":"lime"},{"offset":0.905,"color":"lime"},{"offset":0.905,"color":"red"},{"offset":0.9085,"color":"red"},{"offset":0.9085,"color":"lime"},{"offset":0.91,"color":"lime"},
{"offset":0.91,"color":"red"},{"offset":0.9135,"color":"red"},{"offset":0.9135,"color":"lime"},{"offset":0.915,"color":"lime"},{"offset":0.915,"color":"red"},{"offset":0.9185,"color":"red"},{"offset":0.9185,"color":"lime"},{"offset":0.92,"color":"lime"},
{"offset":0.92,"color":"red"},{"offset":0.9235,"color":"red"},{"offset":0.9235,"color":"lime"},{"offset":0.925,"color":"lime"},{"offset":0.925,"color":"red"},{"offset":0.9285,"color":"red"},{"offset":0.9285,"color":"lime"},{"offset":0.93,"color":"lime"},
{"offset":0.93,"color":"red"},{"offset":0.9335,"color":"red"},{"offset":0.9335,"color":"lime"},{"offset":0.935,"color":"lime"},{"offset":0.935,"color":"red"},{"offset":0.9385,"color":"red"},{"offset":0.9385,"color":"lime"},{"offset":0.94,"color":"lime"},
{"offset":0.94,"color":"red"},{"offset":0.9435,"color":"red"},{"offset":0.9435,"color":"lime"},{"offset":0.945,"color":"lime"},{"offset":0.945,"color":"red"},{"offset":0.9485,"color":"red"},{"offset":0.9485,"color":"lime"},{"offset":0.95,"color":"lime"},
{"offset":0.95,"color":"red"},{"offset":0.9535,"color":"red"},{"offset":0.9535,"color":"lime"},{"offset":0.955,"color":"lime"},{"offset":0.955,"color":"red"},{"offset":0.9585,"color":"red"},{"offset":0.9585,"color":"lime"},{"offset":0.96,"color":"lime"},
{"offset":0.96,"color":"red"},{"offset":0.9635,"color":"red"},{"offset":0.9635,"color":"lime"},{"offset":0.965,"color":"lime"},{"offset":0.965,"color":"red"},{"offset":0.9685,"color":"red"},{"offset":0.9685,"color":"lime"},{"offset":0.97,"color":"lime"},
{"offset":0.97,"color":"red"},{"offset":0.9735,"color":"red"},{"offset":0.9735,"color":"lime"},{"offset":0.975,"color":"lime"},{"offset":0.975,"color":"red"},{"offset":0.9785,"color":"red"},{"offset":0.9785,"color":"lime"},{"offset":0.98,"color":"lime"},
{"offset":0.98,"color":"red"},{"offset":0.9835,"color":"red"},{"offset":0.9835,"color":"lime"},{"offset":0.985,"color":"lime"},{"offset":0.985,"color":"red"},{"offset":0.9885,"color":"red"},{"offset":0.9885,"color":"lime"},{"offset":0.99,"color":"lime"},
{"offset":0.99,"color":"red"},{"offset":0.9935,"color":"red"},{"offset":0.9935,"color":"lime"},{"offset":0.995,"color":"lime"},{"offset":0.995,"color":"red"},{"offset":0.9985,"color":"red"},{"offset":0.9985,"color":"lime"},{"offset":1,"color":"lime"}
]}},
 "encoding":{"x":{"field":"year","type":"quantitative"},"y":{"field":"v1","type":"quantitative"},"y2":{"field":"v0"}}},
{"data":{"values":[{}]},"mark":{"type":"rule","color":"black","strokeWidth":8},"encoding":{"x":{"datum":2007.25},"y":{"datum":0.43},"y2":{"datum":49.67}}},
{"data":{"values":[{}]},"mark":{"type":"rule","color":"black","strokeWidth":7.5,"strokeDash":[8,8]},"encoding":{"x":{"datum":2013.81},"y":{"datum":49.2},"y2":{"datum":0.43}}},
{"data":{"values":[{}]},"mark":{"type":"rule","color":"black","strokeWidth":1.8},"encoding":{"x":{"datum":2000.74},"y":{"datum":53.53},"x2":{"datum":2005.28},"y2":{"datum":51.04}}},
{"data":{"values":[{}]},"mark":{"type":"rule","color":"black","strokeWidth":1.8},"encoding":{"x":{"datum":2021.7},"y":{"datum":53.53},"x2":{"datum":2015.85},"y2":{"datum":50.98}}},
{"data":{"values":[{}]},"mark":{"type":"point","shape":"M1,0L-1,-0.65L-1,0.65Z","size":400,"angle":36.7,"filled":true,"color":"black","opacity":1},"encoding":{"x":{"datum":2005.28},"y":{"datum":51.04}}},
{"data":{"values":[{}]},"mark":{"type":"point","shape":"M1,0L-1,-0.65L-1,0.65Z","size":400,"angle":149.4,"filled":true,"color":"black","opacity":1},"encoding":{"x":{"datum":2015.85},"y":{"datum":50.98}}},
{"data":{"values":[{}]},"mark":{"type":"text","text":"Regular oil topping point","font":"DejaVu Sans","fontSize":53,"color":"black","align":"center","baseline":"alphabetic"},"encoding":{"x":{"datum":1971.7},"y":{"datum":54.18}}},
{"data":{"values":[{}]},"mark":{"type":"text","text":"Oil and gas","font":"DejaVu Sans","fontSize":53,"color":"black","align":"left","baseline":"alphabetic"},"encoding":{"x":{"datum":2020.77},"y":{"datum":54.18}}},
{"data":{"values":[{}]},"mark":{"type":"text","text":"topping point","font":"DejaVu Sans","fontSize":53,"color":"black","align":"left","baseline":"alphabetic"},"encoding":{"x":{"datum":2020.77},"y":{"datum":50.4}}},
{"data":{"values":[{}]},"mark":{"type":"text","text":"Source: ASPO","font":"DejaVu Sans","fontSize":43.5,"color":"black","align":"left","baseline":"alphabetic"},"encoding":{"x":{"datum":2034.6},"y":{"datum":-11.38}}},
{"data":{"values":[{}]},"mark":{"type":"text","text":"solarcentury","font":"Liberation Sans","fontSize":45,"fontWeight":"bold","color":"#8599aa","align":"left","baseline":"alphabetic"},"encoding":{"x":{"datum":1915.46},"y":{"datum":-11.79}}},
{"data":{"values":[{}]},"mark":{"type":"rect","color":"#7d95a8","cornerRadius":7},"encoding":{"x":{"datum":1915.46},"x2":{"datum":1919.89},"y":{"datum":-1.6},"y2":{"datum":-5.04}}},
{"data":{"values":[{}]},"mark":{"type":"rect","color":"#7d95a8","cornerRadius":7},"encoding":{"x":{"datum":1920.09},"x2":{"datum":1924.35},"y":{"datum":-1.6},"y2":{"datum":-5.04}}},
{"data":{"values":[{}]},"mark":{"type":"rect","color":"#7d95a8","cornerRadius":7},"encoding":{"x":{"datum":1915.46},"x2":{"datum":1919.89},"y":{"datum":-5.16},"y2":{"datum":-8.66}}},
{"data":{"values":[{}]},"mark":{"type":"rect","color":"#7d95a8","cornerRadius":7},"encoding":{"x":{"datum":1920.09},"x2":{"datum":1924.35},"y":{"datum":-5.16},"y2":{"datum":-8.66}}},
{"data":{"values":[{}]},"mark":{"type":"point","shape":"circle","size":2550,"filled":true,"color":"#fff39a","opacity":0.7},"encoding":{"x":{"datum":1919.89},"y":{"datum":-5.1}}}
]
}
